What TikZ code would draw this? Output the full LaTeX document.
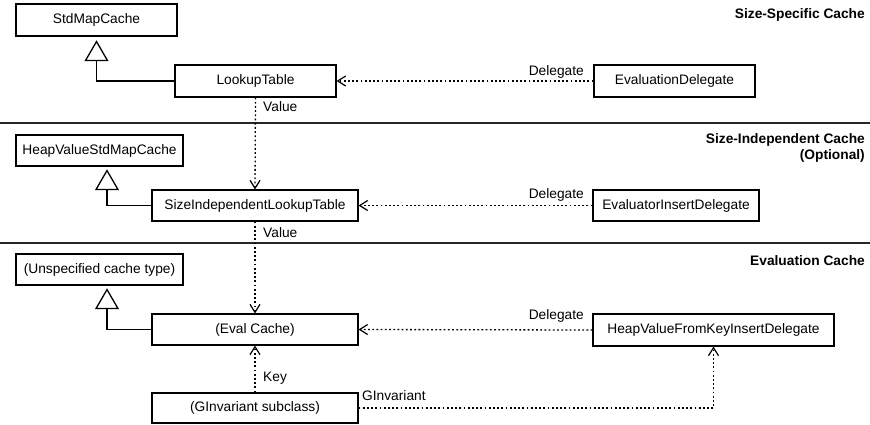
\documentclass[tikz,border=0pt]{standalone}
\usepackage{fontspec}
\setmainfont{Liberation Sans}
\usetikzlibrary{arrows.meta,calc}
\begin{document}
\begin{tikzpicture}[x=1bp,y=-1bp,
  every node/.style={font=\fontsize{13.8}{15.5}\selectfont},
  cls/.style={draw, line width=1.1bp, inner sep=0pt, minimum height=31bp, fill=white},
  lbl/.style={inner sep=0pt},
  title/.style={inner sep=0pt, font=\fontsize{13.8}{15.5}\selectfont\bfseries, align=right},
  dep/.style={line width=1.3bp, dash pattern=on 1.8bp off 2.4bp,
    -{Straight Barb[length=8bp,width=10bp,line width=1.2bp]}},
  genline/.style={line width=1.4bp},
  gentri/.style={line width=1.3bp, fill=white, line join=miter},
  sep/.style={line width=1.8bp, draw=black!85}]
\useasboundingbox (0,0) rectangle (870,424);

% layer separators
\draw[sep] (0,123) -- (870,123);
\draw[sep] (0,243) -- (870,243);

% layer titles
\node[title, anchor=east] at (865,15) {Size-Specific Cache};
\node[title, anchor=east] at (865,148) {Size-Independent Cache\\(Optional)};
\node[title, anchor=east] at (865,261) {Evaluation Cache};

% size-specific layer
\node[cls, minimum width=161bp, minimum height=32bp] (std) at (96.5,20) {StdMapCache};
\node[cls, minimum width=161bp, minimum height=32bp] (lookup) at (255.5,81) {LookupTable};
\node[cls, minimum width=161bp, minimum height=32bp] (evdel) at (674.5,81) {EvaluationDelegate};

% size-independent layer
\node[cls, minimum width=167bp] (heapstd) at (99.5,150.5) {HeapValueStdMapCache};
\node[cls, minimum width=206bp] (silt) at (255,205.5) {SizeIndependentLookupTable};
\node[cls, minimum width=166bp] (eid) at (676,205.5) {EvaluatorInsertDelegate};

% evaluation layer
\node[cls, minimum width=167bp] (unspec) at (99.5,269.5) {(Unspecified cache type)};
\node[cls, minimum width=206bp] (evalc) at (255,329.5) {(Eval Cache)};
\node[cls, minimum width=241bp, minimum height=32bp] (hvfk) at (713.5,330) {HeapValueFromKeyInsertDelegate};
\node[cls, minimum width=206bp, minimum height=30bp] (ginv) at (255,408) {(GInvariant subclass)};

% generalisations: apex of the hollow triangle sits just below the parent
\coordinate (g1) at ([yshift=-5bp]std.south);
\coordinate (g2) at ([xshift=7.5bp,yshift=-4bp]heapstd.south);
\coordinate (g3) at ([xshift=7.5bp,yshift=-4bp]unspec.south);
\foreach \apex/\child in {g1/lookup, g2/silt, g3/evalc} {
  \draw[genline] (\child.west) -| ($(\apex)+(0,19)$);
  \draw[gentri] (\apex) -- ++(-11,19) -- ++(22,0) -- cycle;
}

% dependencies
\draw[dep] (evdel.west) -- (lookup.east);
\draw[dep] (eid.west) -- (silt.east);
\draw[dep] (hvfk.west) -- (evalc.east);
\draw[dep] (lookup.south) -- (silt.north);
\draw[dep] (silt.south) -- (evalc.north);
\draw[dep] (ginv.north) -- (evalc.south);
\draw[dep] (ginv.east) -| (hvfk.south);

% connector labels
\node[lbl, anchor=west] at (263,107) {Value};
\node[lbl, anchor=west] at (263,233) {Value};
\node[lbl, anchor=east] at (584,72) {Delegate};
\node[lbl, anchor=east] at (584,195) {Delegate};
\node[lbl, anchor=east] at (584,316) {Delegate};
\node[lbl, anchor=west] at (263,378) {Key};
\node[lbl, anchor=west] at (362,396) {GInvariant};
\end{tikzpicture}
\end{document}
